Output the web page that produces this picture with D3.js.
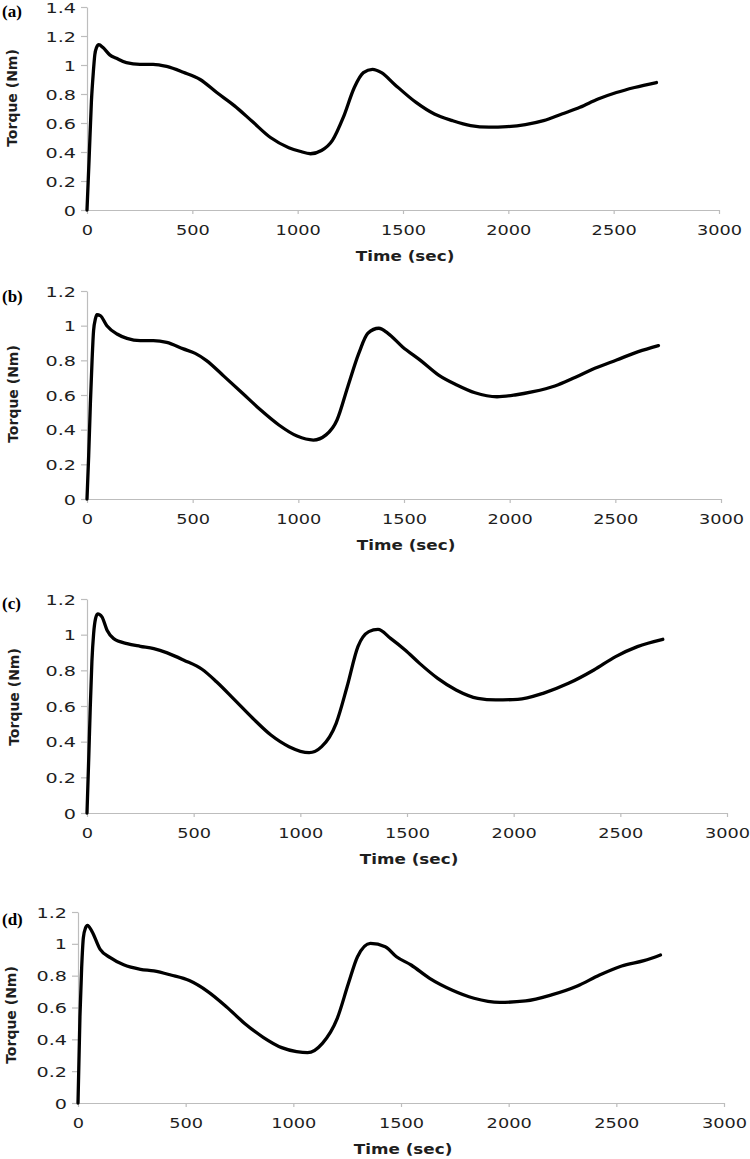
<!DOCTYPE html>
<html>
<head>
<meta charset="utf-8">
<script src="https://cdn.jsdelivr.net/npm/d3@7"></script>
<style>
  html, body { margin: 0; padding: 0; background: #fff; }
  svg { display: block; }
</style>
</head>
<body>
<script>
// ---------------- data ----------------
const panelLabels = ["(a)", "(b)", "(c)", "(d)"];
const xTicks = [0, 500, 1000, 1500, 2000, 2500, 3000];
const yTicksA = [0, 0.2, 0.4, 0.6, 0.8, 1, 1.2, 1.4];
const yTicksBCD = [0, 0.2, 0.4, 0.6, 0.8, 1, 1.2];
const xTitle = "Time (sec)";
const yTitle = "Torque (Nm)";

const timeA = [0, 10, 21, 30, 37, 45, 56, 76, 108, 140, 187, 251, 314, 378, 457, 537, 616, 699, 785, 871, 958, 1010, 1061, 1113, 1165, 1217, 1269, 1312, 1355, 1398, 1459, 1562, 1649, 1735, 1821, 1908, 1994, 2081, 2167, 2254, 2340, 2426, 2513, 2599, 2703];
const torqueA = [0, 0.35, 0.75, 0.95, 1.07, 1.12, 1.14, 1.12, 1.07, 1.046, 1.016, 1.005, 1.005, 0.99, 0.95, 0.90, 0.81, 0.72, 0.61, 0.50, 0.43, 0.405, 0.388, 0.41, 0.48, 0.64, 0.845, 0.947, 0.97, 0.947, 0.868, 0.742, 0.662, 0.616, 0.582, 0.571, 0.575, 0.589, 0.616, 0.662, 0.708, 0.765, 0.81, 0.845, 0.879];

const timeB = [0, 8, 16, 24, 31, 40, 47, 63, 94, 142, 189, 252, 314, 377, 456, 512, 564, 650, 736, 822, 908, 994, 1071, 1131, 1183, 1234, 1286, 1329, 1381, 1424, 1492, 1578, 1664, 1750, 1836, 1940, 2025, 2111, 2214, 2300, 2403, 2506, 2609, 2704];
const torqueB = [0, 0.25, 0.55, 0.8, 0.97, 1.04, 1.063, 1.058, 1.0, 0.952, 0.927, 0.914, 0.914, 0.904, 0.866, 0.84, 0.80, 0.706, 0.61, 0.513, 0.427, 0.363, 0.34, 0.37, 0.456, 0.648, 0.84, 0.956, 0.985, 0.956, 0.879, 0.80, 0.715, 0.658, 0.613, 0.59, 0.60, 0.619, 0.652, 0.696, 0.754, 0.802, 0.85, 0.885];

const timeC = [0, 8, 15, 23, 31, 40, 50, 70, 94, 125, 188, 250, 313, 376, 454, 539, 607, 692, 777, 862, 947, 1041, 1100, 1168, 1219, 1270, 1321, 1364, 1423, 1491, 1559, 1644, 1730, 1832, 1916, 2019, 2138, 2257, 2376, 2478, 2580, 2699];
const torqueC = [0, 0.3, 0.58, 0.85, 1.005, 1.09, 1.117, 1.1, 1.025, 0.978, 0.95, 0.935, 0.922, 0.898, 0.857, 0.806, 0.736, 0.634, 0.531, 0.437, 0.372, 0.338, 0.372, 0.503, 0.708, 0.933, 1.017, 1.03, 0.979, 0.914, 0.839, 0.755, 0.69, 0.643, 0.634, 0.637, 0.671, 0.727, 0.802, 0.877, 0.933, 0.974];

const timeD = [0, 9, 17, 25, 35, 44, 64, 103, 150, 212, 290, 352, 431, 517, 603, 689, 774, 860, 946, 1015, 1066, 1135, 1204, 1256, 1298, 1358, 1427, 1479, 1547, 1633, 1736, 1839, 1959, 2079, 2199, 2319, 2422, 2525, 2628, 2705];
const torqueD = [0, 0.54, 0.85, 1.04, 1.10, 1.116, 1.08, 0.965, 0.913, 0.868, 0.84, 0.83, 0.804, 0.769, 0.70, 0.605, 0.50, 0.413, 0.348, 0.323, 0.316, 0.375, 0.532, 0.752, 0.919, 1.003, 0.982, 0.919, 0.867, 0.783, 0.71, 0.658, 0.632, 0.641, 0.679, 0.735, 0.804, 0.861, 0.894, 0.93];

const seriesTimes = [timeA, timeB, timeC, timeD];
const seriesTorques = [torqueA, torqueB, torqueC, torqueD];
const seriesYTicks = [yTicksA, yTicksBCD, yTicksBCD, yTicksBCD];

// ---------------- layout ----------------
const layout = [
  { left: 87, right: 719, top: 7,   bottom: 210,  labelY: 11,  titleX: 12, titleY: 98 },
  { left: 87, right: 721, top: 291, bottom: 499,  labelY: 296, titleX: 13, titleY: 394 },
  { left: 87, right: 727, top: 599, bottom: 813,  labelY: 603, titleX: 14, titleY: 697 },
  { left: 78, right: 724, top: 912, bottom: 1103, labelY: 919, titleX: 11, titleY: 1015 }
];

const W = 750, H = 1159;
const axisColor = "#bdbdbd";
const textColor = "#1e1e1e";
const tickFont = "DejaVu Sans";
const xTickScale = 1.25, yTickScale = 1.35;

const svg = d3.select("body").append("svg").attr("width", W).attr("height", H);

panelLabels.forEach((lab, i) => {
  const L = layout[i];
  const yt = seriesYTicks[i];
  const ymax = yt[yt.length - 1];
  const x = d3.scaleLinear().domain([0, 3000]).range([L.left, L.right]);
  const y = d3.scaleLinear().domain([0, ymax]).range([L.bottom, L.top]);

  // x axis
  const gx = svg.append("g")
    .attr("transform", `translate(0,${L.bottom})`)
    .call(d3.axisBottom(x).tickValues(xTicks).tickSize(4).tickSizeOuter(0).tickFormat(d3.format("d")));
  gx.select(".domain").attr("stroke", axisColor).attr("stroke-width", 1.2);
  gx.selectAll(".tick line").attr("stroke", axisColor).attr("stroke-width", 1.2);
  gx.selectAll(".tick text")
    .attr("y", 25).attr("dy", 0)
    .attr("transform", `scale(${xTickScale},1)`)
    .attr("fill", textColor)
    .style("font-family", tickFont).style("font-size", "14.2px");

  // y axis
  const gy = svg.append("g")
    .attr("transform", `translate(${L.left},0)`)
    .call(d3.axisLeft(y).tickValues(yt).tickSize(6).tickSizeOuter(0).tickFormat(d => String(d)));
  gy.select(".domain").attr("stroke", axisColor).attr("stroke-width", 1.2);
  gy.selectAll(".tick line").attr("stroke", axisColor).attr("stroke-width", 1.2);
  gy.selectAll(".tick text")
    .attr("x", -11 / yTickScale).attr("dy", "0.36em")
    .attr("transform", `scale(${yTickScale},1)`)
    .attr("fill", textColor)
    .style("font-family", tickFont).style("font-size", "14.2px");

  // line
  const data = seriesTimes[i].map((t, k) => [t, seriesTorques[i][k]]);
  svg.append("path")
    .datum(data)
    .attr("fill", "none")
    .attr("stroke", "#000")
    .attr("stroke-width", 3.3)
    .attr("stroke-linejoin", "round")
    .attr("stroke-linecap", "round")
    .attr("d", d3.line().x(d => x(d[0])).y(d => y(d[1])).curve(d3.curveMonotoneX));

  // x title
  const xt = svg.append("g").attr("transform", `translate(${(x(0) + x(3000)) / 2 + 2},${L.bottom + 51})`);
  xt.append("text")
    .attr("text-anchor", "middle")
    .attr("transform", "scale(1.2,1)")
    .attr("fill", textColor)
    .style("font-family", tickFont).style("font-weight", "bold").style("font-size", "14px")
    .text(xTitle);

  // y title
  svg.append("text")
    .attr("transform", `translate(${L.titleX + 5},${L.titleY}) rotate(-90)`)
    .attr("text-anchor", "middle")
    .attr("fill", textColor)
    .style("font-family", tickFont).style("font-weight", "bold").style("font-size", "14px")
    .text(yTitle);

  // panel label
  svg.append("text")
    .attr("x", 2).attr("y", L.labelY + 6)
    .attr("fill", "#000")
    .style("font-family", "Liberation Serif").style("font-weight", "bold").style("font-size", "17px")
    .text(lab);
});
</script>
</body>
</html>
